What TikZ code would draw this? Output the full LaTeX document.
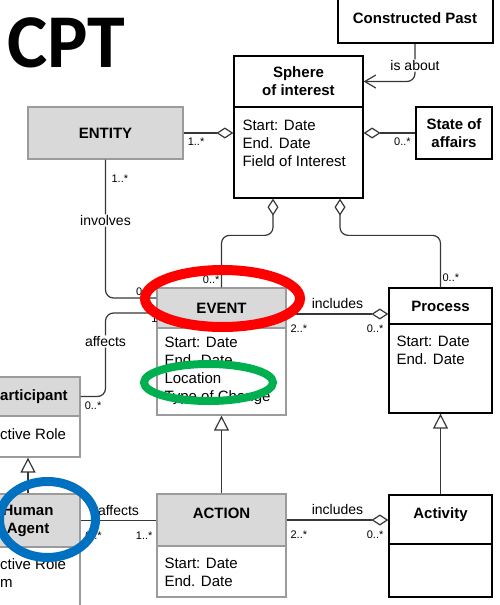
\documentclass[tikz,border=0pt]{standalone}
\usepackage{fontspec}
\setmainfont{Liberation Sans}
\newfontfamily\cptfont{Carlito}
\usetikzlibrary{arrows.meta,shapes}
\definecolor{boxgrey}{RGB}{217,217,217}
\definecolor{edgegrey}{RGB}{155,155,155}
\definecolor{linegrey}{RGB}{55,55,55}
\definecolor{markred}{RGB}{255,0,0}
\definecolor{markgreen}{RGB}{0,176,80}
\definecolor{markblue}{RGB}{0,112,192}
\tikzstyle{whitehead}=[rectangle,draw=black,fill=white,line width=1.3pt,inner sep=0pt,align=center,font=\fontsize{15}{18}\selectfont\bfseries]
\tikzstyle{greyhead}=[whitehead,draw=edgegrey,fill=boxgrey]
\tikzstyle{whitebody}=[rectangle,draw=black,fill=white,line width=1.3pt,inner sep=0pt]
\tikzstyle{greybody}=[whitebody,draw=edgegrey]
\tikzstyle{attrs}=[anchor=north west,inner sep=0pt,align=left,font=\fontsize{15}{18}\selectfont]
\tikzstyle{mult}=[inner sep=1.5pt,font=\fontsize{11}{13}\selectfont]
\tikzstyle{lbl}=[fill=white,inner sep=1pt,font=\fontsize{14}{16}\selectfont]
\tikzstyle{assoc}=[draw=linegrey,line width=1.2pt,rounded corners=8pt]
\tikzstyle{agg}=[assoc,-{Diamond[open,length=17pt,width=11pt]}]
\tikzstyle{inherit}=[assoc,-{Triangle[open,length=15pt,width=15pt]}]
\tikzstyle{navig}=[assoc,-{Straight Barb[length=11pt,width=13pt]}]

\begin{document}
\begin{tikzpicture}[x=1pt,y=-1pt]
\useasboundingbox (0,0) rectangle (500,605);
\clip (0,0) rectangle (500,605);
\node[anchor=base west,inner sep=0pt] (cpt) at (7,67) {\cptfont\fontsize{76}{80}\selectfont\bfseries CPT};

\node[whitehead,line width=2pt,minimum width=155pt,minimum height=49pt] (past) at (415,18.5) {Constructed Past};
\node[whitehead,minimum width=129pt,minimum height=51pt] (spherehead) at (298.5,81.5) {Sphere\\of interest};
\node[whitebody,minimum width=129pt,minimum height=91pt] (spherebody) at (298.5,152.5) {};
\node[attrs] (sphereattrs) at ([shift={(9,13.5)}]spherebody.north west) {Start: Date\\End. Date\\Field of Interest};
\node[greyhead,minimum width=155pt,minimum height=52pt] (entity) at (105.5,133) {ENTITY};
\node[whitehead,minimum width=76pt,minimum height=52pt] (state) at (454,133) {State of\\affairs};

\node[greyhead,minimum width=129pt,minimum height=40pt] (eventhead) at (221.5,308) {EVENT};
\node[greybody,minimum width=129pt,minimum height=87pt] (eventbody) at (221.5,371.5) {};
\node[attrs] (eventattrs) at ([shift={(8,9.5)}]eventbody.north west) {Start: Date\\End. Date\\Location\\Type of Change};
\node[whitehead,minimum width=103pt,minimum height=36pt] (prochead) at (440.5,306) {Process};
\node[whitebody,minimum width=103pt,minimum height=89pt] (procbody) at (440.5,368.5) {};
\node[attrs] (procattrs) at ([shift={(8,12.5)}]procbody.north west) {Start: Date\\End. Date};

\node[greyhead,minimum width=104pt,minimum height=39pt] (parthead) at (28,396.5) {};
\node[font=\fontsize{15}{18}\selectfont\bfseries,anchor=west,inner sep=0pt] (parttext) at (0,396.5) {articipant};
\node[greybody,minimum width=104pt,minimum height=41pt] (partbody) at (28,436.5) {};
\node[attrs,anchor=west] (partattrs) at (0,434) {ctive Role};

\node[greyhead,minimum width=104pt,minimum height=53pt] (humanhead) at (28,520.5) {Human\\Agent};
\node[greybody,minimum width=104pt,minimum height=63pt] (humanbody) at (28,578.5) {};
\node[attrs,anchor=west] (humanattrs) at (0,573) {ctive Role\\m};
\node[greyhead,minimum width=129pt,minimum height=52pt,text depth=13pt] (actionhead) at (221.5,520) {ACTION};
\node[greybody,minimum width=129pt,minimum height=51pt] (actionbody) at (221.5,571.5) {};
\node[attrs] (actionattrs) at ([shift={(8,12.5)}]actionbody.north west) {Start: Date\\End. Date};
\node[whitehead,minimum width=103pt,minimum height=49pt,text depth=13pt] (acthead) at (440.5,519.5) {Activity};
\node[whitebody,minimum width=103pt,minimum height=53pt] (actbody) at (440.5,570.5) {};

\draw[navig] (past.south) |- node[lbl,pos=0.286]{is about} (spherehead.east);
\draw[agg] (entity.east) -- node[mult,pos=0.25,below=3pt]{1..*} (entity.east -| spherebody.west);
\draw[agg] (state.west) -- node[mult,pos=0.25,below=3pt]{0..*} (state.west -| spherebody.east);
\draw[agg] (eventhead.north) -- node[mult,pos=0.15,left]{0..*} ++(0,-52) -| ([xshift=-25.5pt]spherebody.south);
\draw[agg] (prochead.north) -- node[mult,pos=0.19,right]{0..*} ++(0,-52) -| ([xshift=41.5pt]spherebody.south);
\draw[assoc] (entity.south) |- node[mult,pos=0.07,right,xshift=4pt]{1..*} node[lbl,pos=0.22]{involves} node[mult,pos=0.78,anchor=south west]{0..*} ([yshift=10pt]eventhead.west);
\draw[assoc] ([yshift=-5pt]eventhead.west) -| node[mult,pos=0.07,anchor=north west]{1} node[lbl,pos=0.67]{affects} (entity.south |- parthead.east) -- node[mult,below=3pt]{0..*} (parthead.east);
\draw[agg] ([yshift=-6pt]eventhead.east) -- node[lbl,above=4pt]{includes} node[mult,pos=0.12,below=9pt]{2..*} node[mult,pos=0.87,below=9pt]{0..*} ([yshift=-6pt]eventhead.east -| prochead.west);
\draw[agg] (actionhead.east) -- node[lbl,above=4pt]{includes} node[mult,pos=0.12,below=9pt]{2..*} node[mult,pos=0.87,below=9pt]{0..*} (actionhead.east -| acthead.west);
\draw[assoc] (humanhead.east) -- node[lbl,above=3pt]{affects} node[mult,pos=0.17,below=9pt]{0..*} node[mult,pos=0.84,below=9pt]{1..*} (humanhead.east -| actionhead.west);
\draw[inherit] (actionhead.north) -- (eventbody.south);
\draw[inherit] (acthead.north) -- (procbody.south);
\draw[inherit] (humanhead.north) -- (partbody.south);

\draw[markred,line width=10pt] (222.5,298.5) ellipse [x radius=77.5pt,y radius=28.5pt];
\draw[markgreen,line width=8pt] (208.5,382.5) ellipse [x radius=64.5pt,y radius=18.5pt];
\draw[markblue,line width=9pt] (47.5,519.5) ellipse [x radius=48pt,y radius=38pt];
\end{tikzpicture}
\end{document}
